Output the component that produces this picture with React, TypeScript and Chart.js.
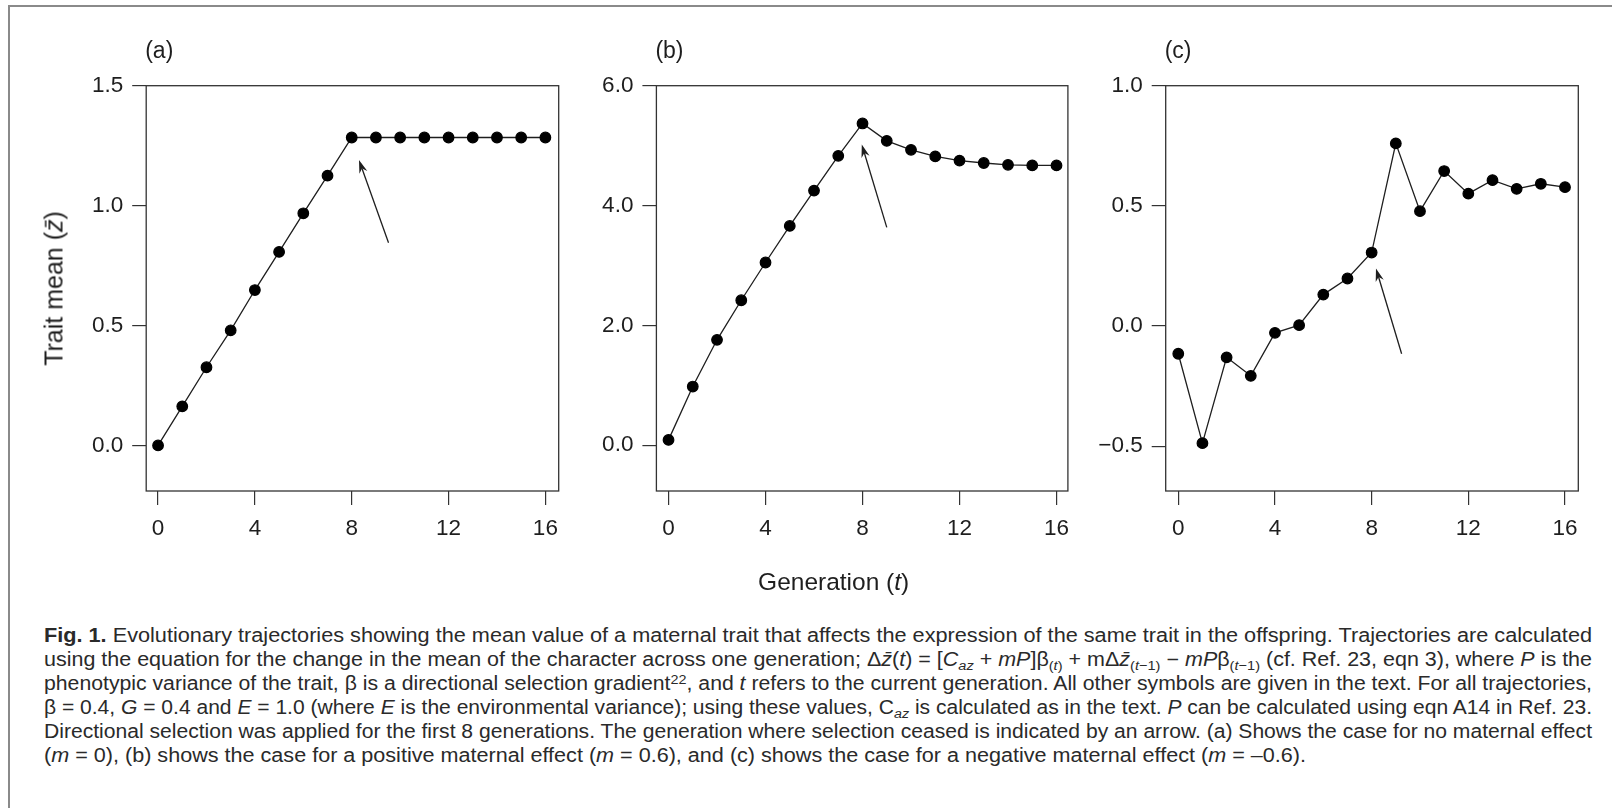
import React, { useEffect, useLayoutEffect, useRef } from 'react';
import { Chart, registerables } from 'chart.js';

Chart.register(...registerables);

// ---------- data ----------
const generations = [0, 1, 2, 3, 4, 5, 6, 7, 8, 9, 10, 11, 12, 13, 14, 15, 16];
const traitMeanA = [0, 0.163, 0.326, 0.48, 0.648, 0.807, 0.968, 1.125, 1.284, 1.284, 1.284, 1.284, 1.284, 1.284, 1.284, 1.284, 1.284];
const traitMeanB = [0.09, 0.98, 1.76, 2.42, 3.05, 3.66, 4.25, 4.83, 5.37, 5.08, 4.93, 4.82, 4.75, 4.71, 4.68, 4.67, 4.67];
const traitMeanC = [-0.115, -0.487, -0.13, -0.207, -0.028, 0.004, 0.131, 0.198, 0.306, 0.76, 0.478, 0.645, 0.551, 0.607, 0.571, 0.592, 0.578];

const xTickValues = [0, 4, 8, 12, 16];
const yTicksA = [0, 0.5, 1.0, 1.5];
const yTicksB = [0, 2, 4, 6];
const yTicksC = [-0.5, 0, 0.5, 1.0];

const yRangeA = [-0.19, 1.5];
const yRangeB = [-0.763, 6.0];
const yRangeC = [-0.686, 1.0];
const xRangeA = [-0.49, 16.55];
const xRangeB = [-0.5, 16.47];
const xRangeC = [-0.52, 16.55];

// arrows marking where selection ceased (data coordinates)
const arrowTailA = [9.52, 0.845];
const arrowHeadA = [8.3, 1.19];
const arrowTailB = [9.0, 3.635];
const arrowHeadB = [7.97, 5.02];
const arrowTailC = [9.24, -0.115];
const arrowHeadC = [8.18, 0.24];

const panelLabels = ['(a)', '(b)', '(c)'];

// ---------- layout ----------
const FONT = '"Liberation Sans", Arial, Helvetica, sans-serif';
const BOX_TOP = 85.7;
const BOX_BOTTOM = 491;
const INK = '#1e1e1e';

const frameArrowPlugin = {
  id: 'frameArrow',
  afterDatasetsDraw(chart: any, _args: any, opts: any) {
    const { ctx, chartArea: a, scales } = chart;
    const xs = scales.x;
    const ys = scales.y;
    ctx.save();
    ctx.strokeStyle = '#333';
    ctx.lineWidth = 1.3;
    ctx.strokeRect(a.left, a.top, a.right - a.left, a.bottom - a.top);
    if (opts && opts.tail && opts.head) {
      const x1 = xs.getPixelForValue(opts.tail[0]);
      const y1 = ys.getPixelForValue(opts.tail[1]);
      const x2 = xs.getPixelForValue(opts.head[0]);
      const y2 = ys.getPixelForValue(opts.head[1]);
      const dx = x2 - x1;
      const dy = y2 - y1;
      const len = Math.hypot(dx, dy) || 1;
      const ux = dx / len;
      const uy = dy / len;
      const px = -uy;
      const py = ux;
      const hl = 13;
      const hw = 4.2;
      const nb = 9;
      ctx.strokeStyle = INK;
      ctx.fillStyle = INK;
      ctx.lineWidth = 1.3;
      ctx.beginPath();
      ctx.moveTo(x1, y1);
      ctx.lineTo(x2 - ux * nb, y2 - uy * nb);
      ctx.stroke();
      ctx.beginPath();
      ctx.moveTo(x2, y2);
      ctx.lineTo(x2 - ux * hl + px * hw, y2 - uy * hl + py * hw);
      ctx.lineTo(x2 - ux * nb, y2 - uy * nb);
      ctx.lineTo(x2 - ux * hl - px * hw, y2 - uy * hl - py * hw);
      ctx.closePath();
      ctx.fill();
    }
    ctx.restore();
  },
};

function fmtY(v: number) {
  const s = Math.abs(v).toFixed(1);
  return v < 0 ? '\u2212' + s : s;
}

type PanelProps = {
  values: number[];
  yTicks: number[];
  yRange: number[];
  xRange: number[];
  tail: number[];
  head: number[];
  boxLeft: number;
  boxRight: number;
};

function Panel({ values, yTicks, yRange, xRange, tail, head, boxLeft, boxRight }: PanelProps) {
  const ref = useRef<HTMLCanvasElement>(null);
  const canvasLeft = Math.floor(boxLeft) - 100;
  const canvasTop = 40;
  const canvasW = Math.ceil(boxRight) + 30 - canvasLeft;
  const canvasH = 530;

  useEffect(() => {
    if (!ref.current) return;
    const yW = boxLeft - canvasLeft;
    const xH = canvasTop + canvasH - BOX_BOTTOM;
    const chart = new Chart(ref.current, {
      type: 'line',
      data: {
        datasets: [
          {
            data: generations.map((g, i) => ({ x: g, y: values[i] })),
            borderColor: INK,
            borderWidth: 1.3,
            pointRadius: 5.3,
            pointBorderWidth: 1.2,
            pointBackgroundColor: '#000',
            pointBorderColor: '#000',
            tension: 0,
            clip: false as any,
          },
        ],
      },
      options: {
        responsive: false,
        animation: false,
        devicePixelRatio: 1,
        events: [],
        layout: {
          padding: { left: 0, top: BOX_TOP - canvasTop, right: canvasLeft + canvasW - boxRight, bottom: 0 },
        },
        plugins: {
          legend: { display: false },
          tooltip: { enabled: false },
          frameArrow: { tail, head },
        } as any,
        scales: {
          x: {
            type: 'linear',
            min: xRange[0],
            max: xRange[1],
            afterBuildTicks: (s: any) => {
              s.ticks = xTickValues.map((v) => ({ value: v }));
            },
            afterFit: (s: any) => {
              s.height = xH;
            },
            border: { display: false },
            grid: { drawOnChartArea: false, drawTicks: true, tickLength: 14, color: '#333', lineWidth: 1.2 },
            ticks: {
              autoSkip: false,
              maxRotation: 0,
              color: INK,
              padding: 10,
              font: { family: FONT, size: 22.5 },
              callback: (v: any) => String(v),
            },
          },
          y: {
            type: 'linear',
            min: yRange[0],
            max: yRange[1],
            afterBuildTicks: (s: any) => {
              s.ticks = yTicks.map((v) => ({ value: v }));
            },
            afterFit: (s: any) => {
              s.width = yW;
            },
            border: { display: false },
            grid: { drawOnChartArea: false, drawTicks: true, tickLength: 14, color: '#333', lineWidth: 1.2 },
            ticks: {
              autoSkip: false,
              color: INK,
              padding: 9,
              font: { family: FONT, size: 22.5 },
              callback: (v: any) => fmtY(Number(v)),
            },
          },
        },
      },
      plugins: [frameArrowPlugin as any],
    });
    return () => chart.destroy();
  }, []);

  return (
    <canvas
      ref={ref}
      width={canvasW}
      height={canvasH}
      style={{ position: 'absolute', left: canvasLeft, top: canvasTop, width: canvasW, height: canvasH }}
    />
  );
}

const subStyle: React.CSSProperties = { fontSize: '0.68em', verticalAlign: '-0.28em', lineHeight: 0 };
const supStyle: React.CSSProperties = { fontSize: '0.68em', verticalAlign: '0.45em', lineHeight: 0 };

const captionLines: React.ReactNode[] = [
  <>
    <b>Fig. 1.</b> Evolutionary trajectories showing the mean value of a maternal trait that affects the expression of the same trait in the offspring. Trajectories are calculated
  </>,
  <>
    using the equation for the change in the mean of the character across one generation; Δ<i>z̄</i>(<i>t</i>) = [<i>C</i>
    <span style={subStyle}><i>az</i></span> + <i>mP</i>]β<span style={subStyle}>(<i>t</i>)</span> + mΔ<i>z̄</i>
    <span style={subStyle}>(<i>t</i>−1)</span> − <i>mP</i>β<span style={subStyle}>(<i>t</i>−1)</span> (cf. Ref. 23, eqn 3), where <i>P</i> is the
  </>,
  <>
    phenotypic variance of the trait, β is a directional selection gradient<span style={supStyle}>22</span>, and <i>t</i> refers to the current generation. All other symbols are given in the text. For all trajectories,
  </>,
  <>
    β = 0.4, <i>G</i> = 0.4 and <i>E</i> = 1.0 (where <i>E</i> is the environmental variance); using these values, C<span style={subStyle}><i>az</i></span> is calculated as in the text. <i>P</i> can be calculated using eqn A14 in Ref. 23.
  </>,
  <>
    Directional selection was applied for the first 8 generations. The generation where selection ceased is indicated by an arrow. (a) Shows the case for no maternal effect
  </>,
  <>
    (<i>m</i> = 0), (b) shows the case for a positive maternal effect (<i>m</i> = 0.6), and (c) shows the case for a negative maternal effect (<i>m</i> = –0.6).
  </>,
];
const captionWidths = [1548, 1548, 1548, 1548, 1548, 1262];

function Caption() {
  const refs = useRef<(HTMLSpanElement | null)[]>([]);
  useLayoutEffect(() => {
    const fit = () => {
      refs.current.forEach((el, i) => {
        if (!el) return;
        el.style.transform = 'none';
        const w = el.getBoundingClientRect().width;
        if (w > 0) el.style.transform = `scaleX(${captionWidths[i] / w})`;
      });
    };
    fit();
    if ((document as any).fonts && (document as any).fonts.ready) {
      (document as any).fonts.ready.then(fit);
    }
  }, []);
  return (
    <div
      style={{
        position: 'absolute',
        left: 43.5,
        top: 623.4,
        fontFamily: FONT,
        fontSize: 19.5,
        lineHeight: '24px',
        color: '#2a2a2a',
      }}
    >
      {captionLines.map((line, i) => (
        <div key={i} style={{ height: 24, whiteSpace: 'nowrap' }}>
          <span
            ref={(el) => {
              refs.current[i] = el;
            }}
            style={{ display: 'inline-block', transformOrigin: '0 0', whiteSpace: 'nowrap' }}
          >
            {line}
          </span>
        </div>
      ))}
    </div>
  );
}

const panelBoxes = [
  { left: 146.2, right: 558.7 },
  { left: 656.4, right: 1067.9 },
  { left: 1165.7, right: 1578.3 },
];

export default function App() {
  return (
    <div
      style={{
        position: 'absolute',
        left: 0,
        top: 0,
        width: 1612,
        height: 808,
        background: '#fff',
        overflow: 'hidden',
        fontFamily: FONT,
        color: INK,
      }}
    >
      {/* page frame */}
      <div style={{ position: 'absolute', left: 8, top: 5, width: 1604, height: 2, background: '#8a8a8a' }} />
      <div style={{ position: 'absolute', left: 8, top: 5, width: 2, height: 803, background: '#8a8a8a' }} />

      <Panel values={traitMeanA} yTicks={yTicksA} yRange={yRangeA} xRange={xRangeA} tail={arrowTailA} head={arrowHeadA} boxLeft={panelBoxes[0].left} boxRight={panelBoxes[0].right} />
      <Panel values={traitMeanB} yTicks={yTicksB} yRange={yRangeB} xRange={xRangeB} tail={arrowTailB} head={arrowHeadB} boxLeft={panelBoxes[1].left} boxRight={panelBoxes[1].right} />
      <Panel values={traitMeanC} yTicks={yTicksC} yRange={yRangeC} xRange={xRangeC} tail={arrowTailC} head={arrowHeadC} boxLeft={panelBoxes[2].left} boxRight={panelBoxes[2].right} />

      {panelLabels.map((lab, i) => (
        <div
          key={lab}
          style={{
            position: 'absolute',
            left: panelBoxes[i].left - 1,
            top: 38.5,
            fontSize: 23,
            lineHeight: '23px',
            whiteSpace: 'nowrap',
          }}
        >
          {lab}
        </div>
      ))}

      {/* y axis title */}
      <div
        style={{
          position: 'absolute',
          left: 54 - 150,
          top: 288.4 - 12.5,
          width: 300,
          height: 25,
          fontSize: 25,
          lineHeight: '25px',
          textAlign: 'center',
          whiteSpace: 'nowrap',
          transform: 'rotate(-90deg)',
        }}
      >
        Trait mean (<i>z̄</i>)
      </div>

      {/* x axis title */}
      <div
        style={{
          position: 'absolute',
          left: 833.7 - 150,
          top: 570,
          width: 300,
          fontSize: 24.5,
          lineHeight: '24.5px',
          textAlign: 'center',
          whiteSpace: 'nowrap',
        }}
      >
        Generation (<i>t</i>)
      </div>

      <Caption />
    </div>
  );
}
